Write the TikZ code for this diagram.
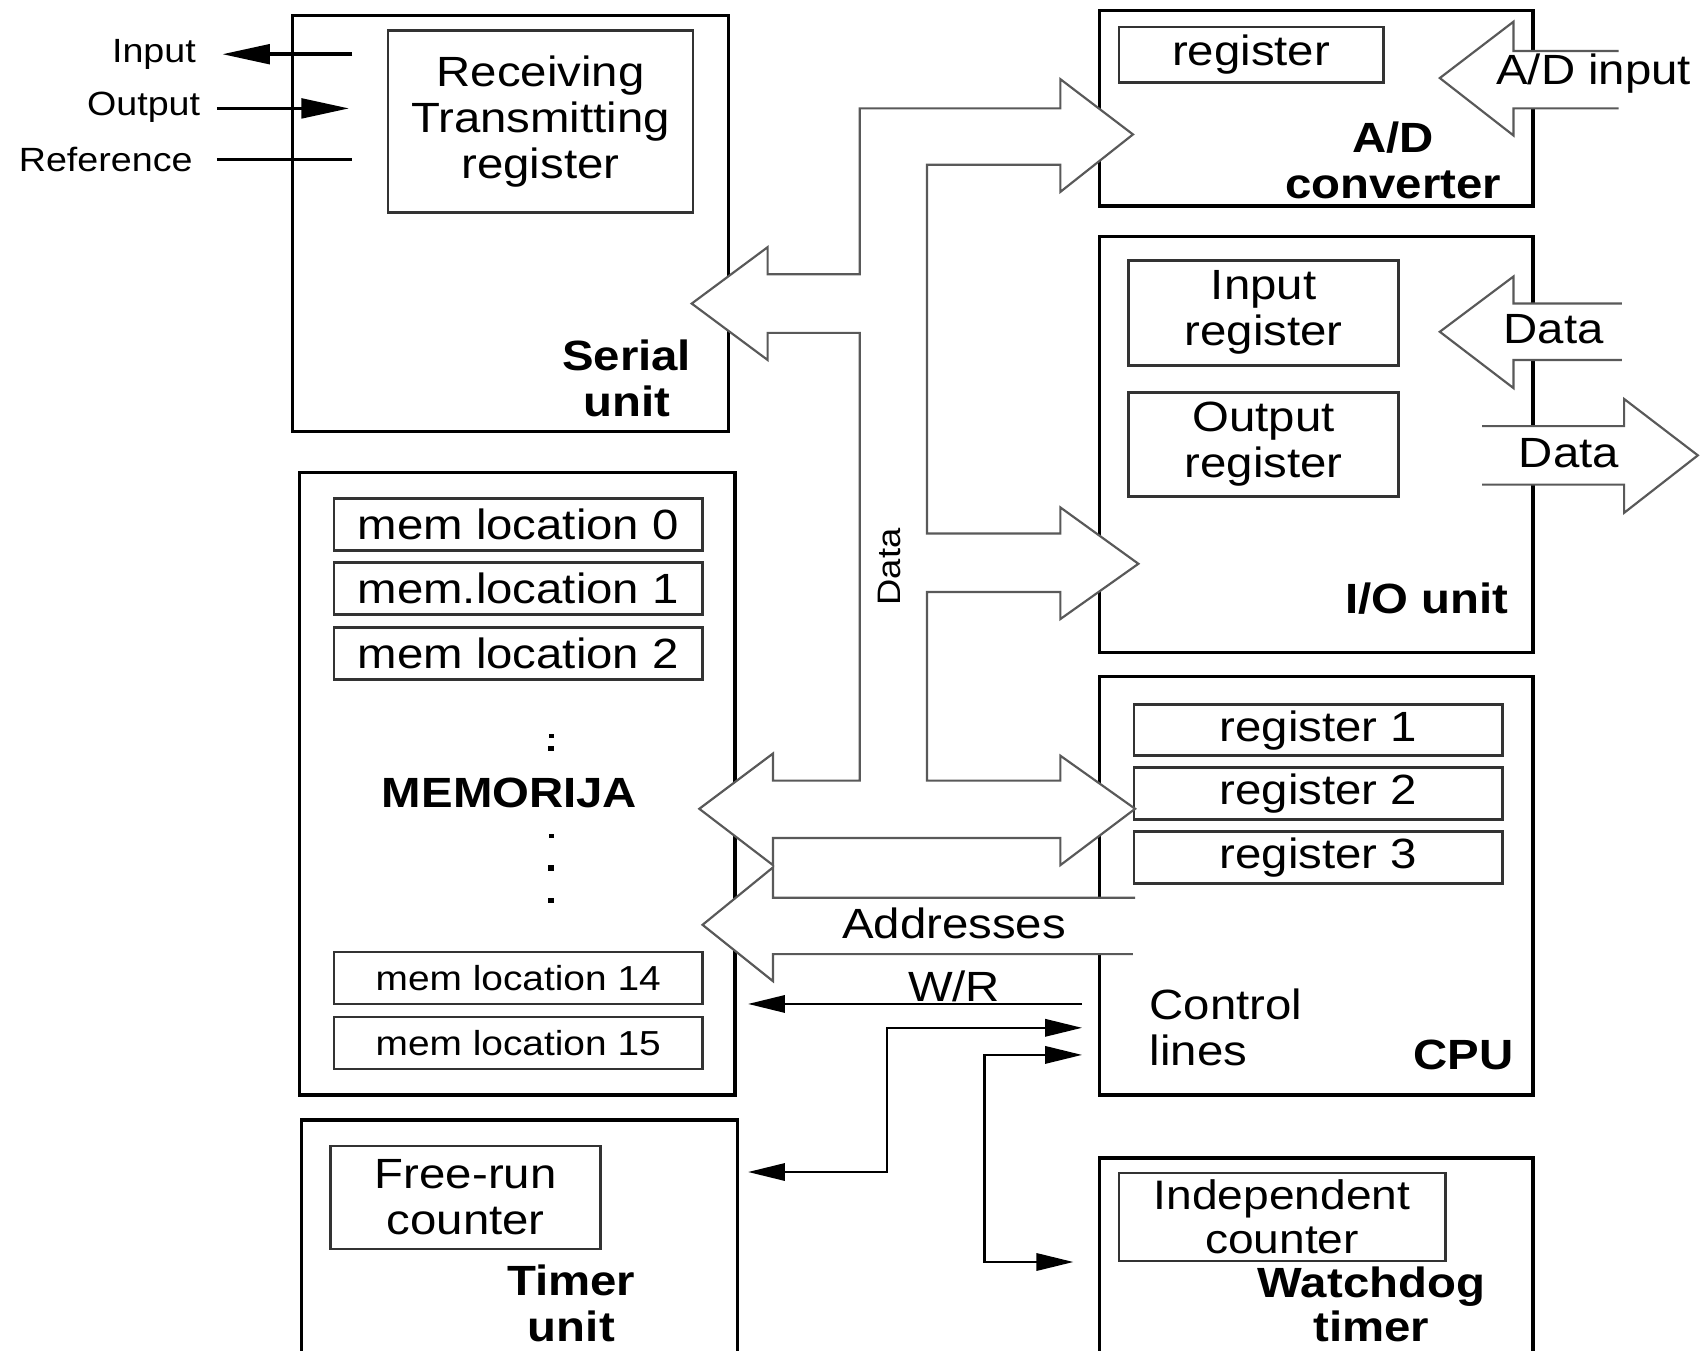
\documentclass[tikz,border=0pt]{standalone}
\usepackage{fontspec}
\setmainfont{Liberation Sans}[FakeStretch=1.12]
\usetikzlibrary{arrows.meta}
\tikzset{
 box/.style={draw, line width=1.5pt, inner sep=0pt, outer sep=0pt},
 ibox/.style={draw=black!80, line width=1.2pt, inner sep=0pt, outer sep=0pt, align=center,
   font=\fontsize{19.5}{21.25}\selectfont},
 bus/.style={draw=black!65, line width=1pt, fill=white, line join=miter},
 txt/.style={font=\fontsize{19.5}{21.25}\selectfont, align=center, inner sep=0pt},
 btxt/.style={font=\fontsize{19.5}{21.25}\selectfont\bfseries, align=center, inner sep=0pt},
 stxt/.style={font=\fontsize{15.5}{18}\selectfont, inner sep=0pt},
 sig/.style={line width=1.7pt, -{Triangle[length=22pt,width=9pt]}},
 ctl/.style={line width=1pt},
 ctlend/.style={-{Triangle[length=17pt,width=8pt]}},
 ctlboth/.style={{Triangle[length=17pt,width=8pt]}-{Triangle[length=17pt,width=8pt]}},
 dotsq/.style={fill=black, draw=none}
}
\begin{document}
\begin{tikzpicture}[x=0.5pt,y=-0.5pt]
\useasboundingbox (0,0) rectangle (1568,1246);

% ---------- outer boxes ----------
\node[box, minimum width=201pt, minimum height=192pt] (serial) at (471,206) {};
\node[box, minimum width=200pt, minimum height=90pt] (adc) at (1214,100) {};
\node[box, minimum width=200pt, minimum height=192pt] (io) at (1214,410) {};
\node[box, minimum width=200pt, minimum height=193pt] (cpu) at (1214,817) {};
\node[box, minimum width=200pt, minimum height=92pt] (wd) at (1214,1160) {};
\node[box, minimum width=201pt, minimum height=287pt] (mem) at (477,723) {};
\node[box, minimum width=201pt, minimum height=109.5pt] (timer) at (479,1142.5) {};

% ---------- inner boxes ----------
\node[ibox, minimum width=140.5pt, minimum height=84pt] (rtreg) at (498.5,112) {Receiving\\Transmitting\\register};
\node[ibox, minimum width=122pt, minimum height=25.5pt] (adreg) at (1154,50.5) {register};
\node[ibox, minimum width=124.5pt, minimum height=48.5pt] (inreg) at (1165.5,288.5) {Input\\register};
\node[ibox, minimum width=124.5pt, minimum height=48pt] (outreg) at (1165.5,410) {Output\\register};
\node[ibox, minimum width=170pt, minimum height=23.5pt] (reg1) at (1216,673.5) {register 1};
\node[ibox, minimum width=170pt, minimum height=24pt] (reg2) at (1216,732) {register 2};
\node[ibox, minimum width=170pt, minimum height=24pt] (reg3) at (1216,791) {register 3};
\node[ibox, minimum width=150.5pt, minimum height=40.5pt, font=\fontsize{19}{20.5}\selectfont] (indep) at (1182.5,1122.5) {Independent\\counter};
\node[ibox, minimum width=170pt, minimum height=24pt] (m0) at (478,484) {mem location 0};
\node[ibox, minimum width=170pt, minimum height=24pt] (m1) at (478,543) {mem.location 1};
\node[ibox, minimum width=170pt, minimum height=24pt] (m2) at (478,603) {mem location 2};
\node[ibox, minimum width=170pt, minimum height=24pt, font=\fontsize{16}{18}\selectfont] (m14) at (478,902) {mem location 14};
\node[ibox, minimum width=170pt, minimum height=24pt, font=\fontsize{16}{18}\selectfont] (m15) at (478,962) {mem location 15};
\node[ibox, minimum width=124.5pt, minimum height=47.5pt] (frc) at (429.5,1104.5) {Free-run\\counter};

% ---------- bus arrows (white filled) ----------
\draw[bus] (645,746) -- (713,695) -- (713,720) -- (793,720) -- (793,307) -- (708,307)
  -- (708,332) -- (638,280) -- (708,228) -- (708,253) -- (793,253) -- (793,100)
  -- (978,100) -- (978,73) -- (1045,124) -- (978,177) -- (978,152) -- (855,152)
  -- (855,492) -- (978,492) -- (978,468) -- (1050,520) -- (978,571) -- (978,546)
  -- (855,546) -- (855,720) -- (978,720) -- (978,697) -- (1047,746) -- (978,798)
  -- (978,773) -- (713,773) -- (713,798) -- cycle;
\draw[bus] (1047,828) -- (713,828) -- (713,800) -- (648,853) -- (713,905) -- (713,880) -- (1045,880);
\draw[bus] (1493,47) -- (1396,47) -- (1396,20) -- (1328,72) -- (1396,125) -- (1396,100) -- (1493,100);
\draw[bus] (1496,280) -- (1396,280) -- (1396,255) -- (1328,306) -- (1396,358) -- (1396,332) -- (1496,332);
\draw[bus] (1367,393) -- (1498,393) -- (1498,368) -- (1566,420) -- (1498,473) -- (1498,447) -- (1367,447);

% ---------- serial signal lines ----------
\coordinate (inA) at (325,50);  \coordinate (inB) at (205,50);
\coordinate (outA) at (200,100); \coordinate (outB) at (322,100);
\coordinate (refA) at (200,147); \coordinate (refB) at (325,147);
\draw[sig] (inA) -- (inB);
\draw[sig] (outA) -- (outB);
\draw[line width=1.7pt] (refA) -- (refB);
\node[stxt, anchor=east] (linput) at (181,50) {Input};
\node[stxt, anchor=east] (loutput) at (185,99) {Output};
\node[stxt, anchor=east] (lref) at (178,147) {Reference};

% ---------- control lines ----------
\coordinate (wrA) at (998,926); \coordinate (wrB) at (690,926);
\coordinate (c1A) at (998,948); \coordinate (c1B) at (690,1081);
\coordinate (c2A) at (998,973); \coordinate (c2B) at (990,1164);
\draw[ctl, ctlend] (wrA) -- (wrB);
\draw[ctl, ctlboth] (c1A) -- (818,948) -- (818,1081) -- (c1B);
\draw[ctl, ctlboth] (c2A) -- (908,973) -- (908,1164) -- (c2B);

% ---------- labels ----------
\node[btxt] (lserial) at (578,349) {Serial\\unit};
\node[btxt] (ladc) at (1285,148) {A/D\\converter};
\node[txt] (ladin) at (1470,68) {A/D input};
\node[txt] (ldin) at (1433,304) {Data};
\node[txt] (ldout) at (1447,418) {Data};
\node[btxt] (lio) at (1316,552) {I/O unit};
\node[txt, align=left, anchor=west] (lctl) at (1060,948) {Control\\lines};
\node[btxt] (lcpu) at (1350,973) {CPU};
\node[btxt, font=\fontsize{19.5}{20}\selectfont\bfseries] (lwd) at (1265,1203) {Watchdog\\timer};
\node[btxt] (lmem) at (470,731) {MEMORIJA};
\node[btxt] (ltimer) at (527,1202) {Timer\\unit};
\node[txt] (laddr) at (880,852) {Addresses};
\node[txt] (lwr) at (880,910) {W/R};
\node[font=\fontsize{15}{18}\selectfont, inner sep=0pt, rotate=90] (ldata) at (820,523) {Data};

% ---------- dots ----------
\fill[dotsq] (506,677) rectangle (511,681);
\fill[dotsq] (505,688) rectangle (511,693);
\fill[dotsq] (506,769) rectangle (511,773);
\fill[dotsq] (505,798) rectangle (511,803);
\fill[dotsq] (505,828) rectangle (511,833);
\end{tikzpicture}
\end{document}
